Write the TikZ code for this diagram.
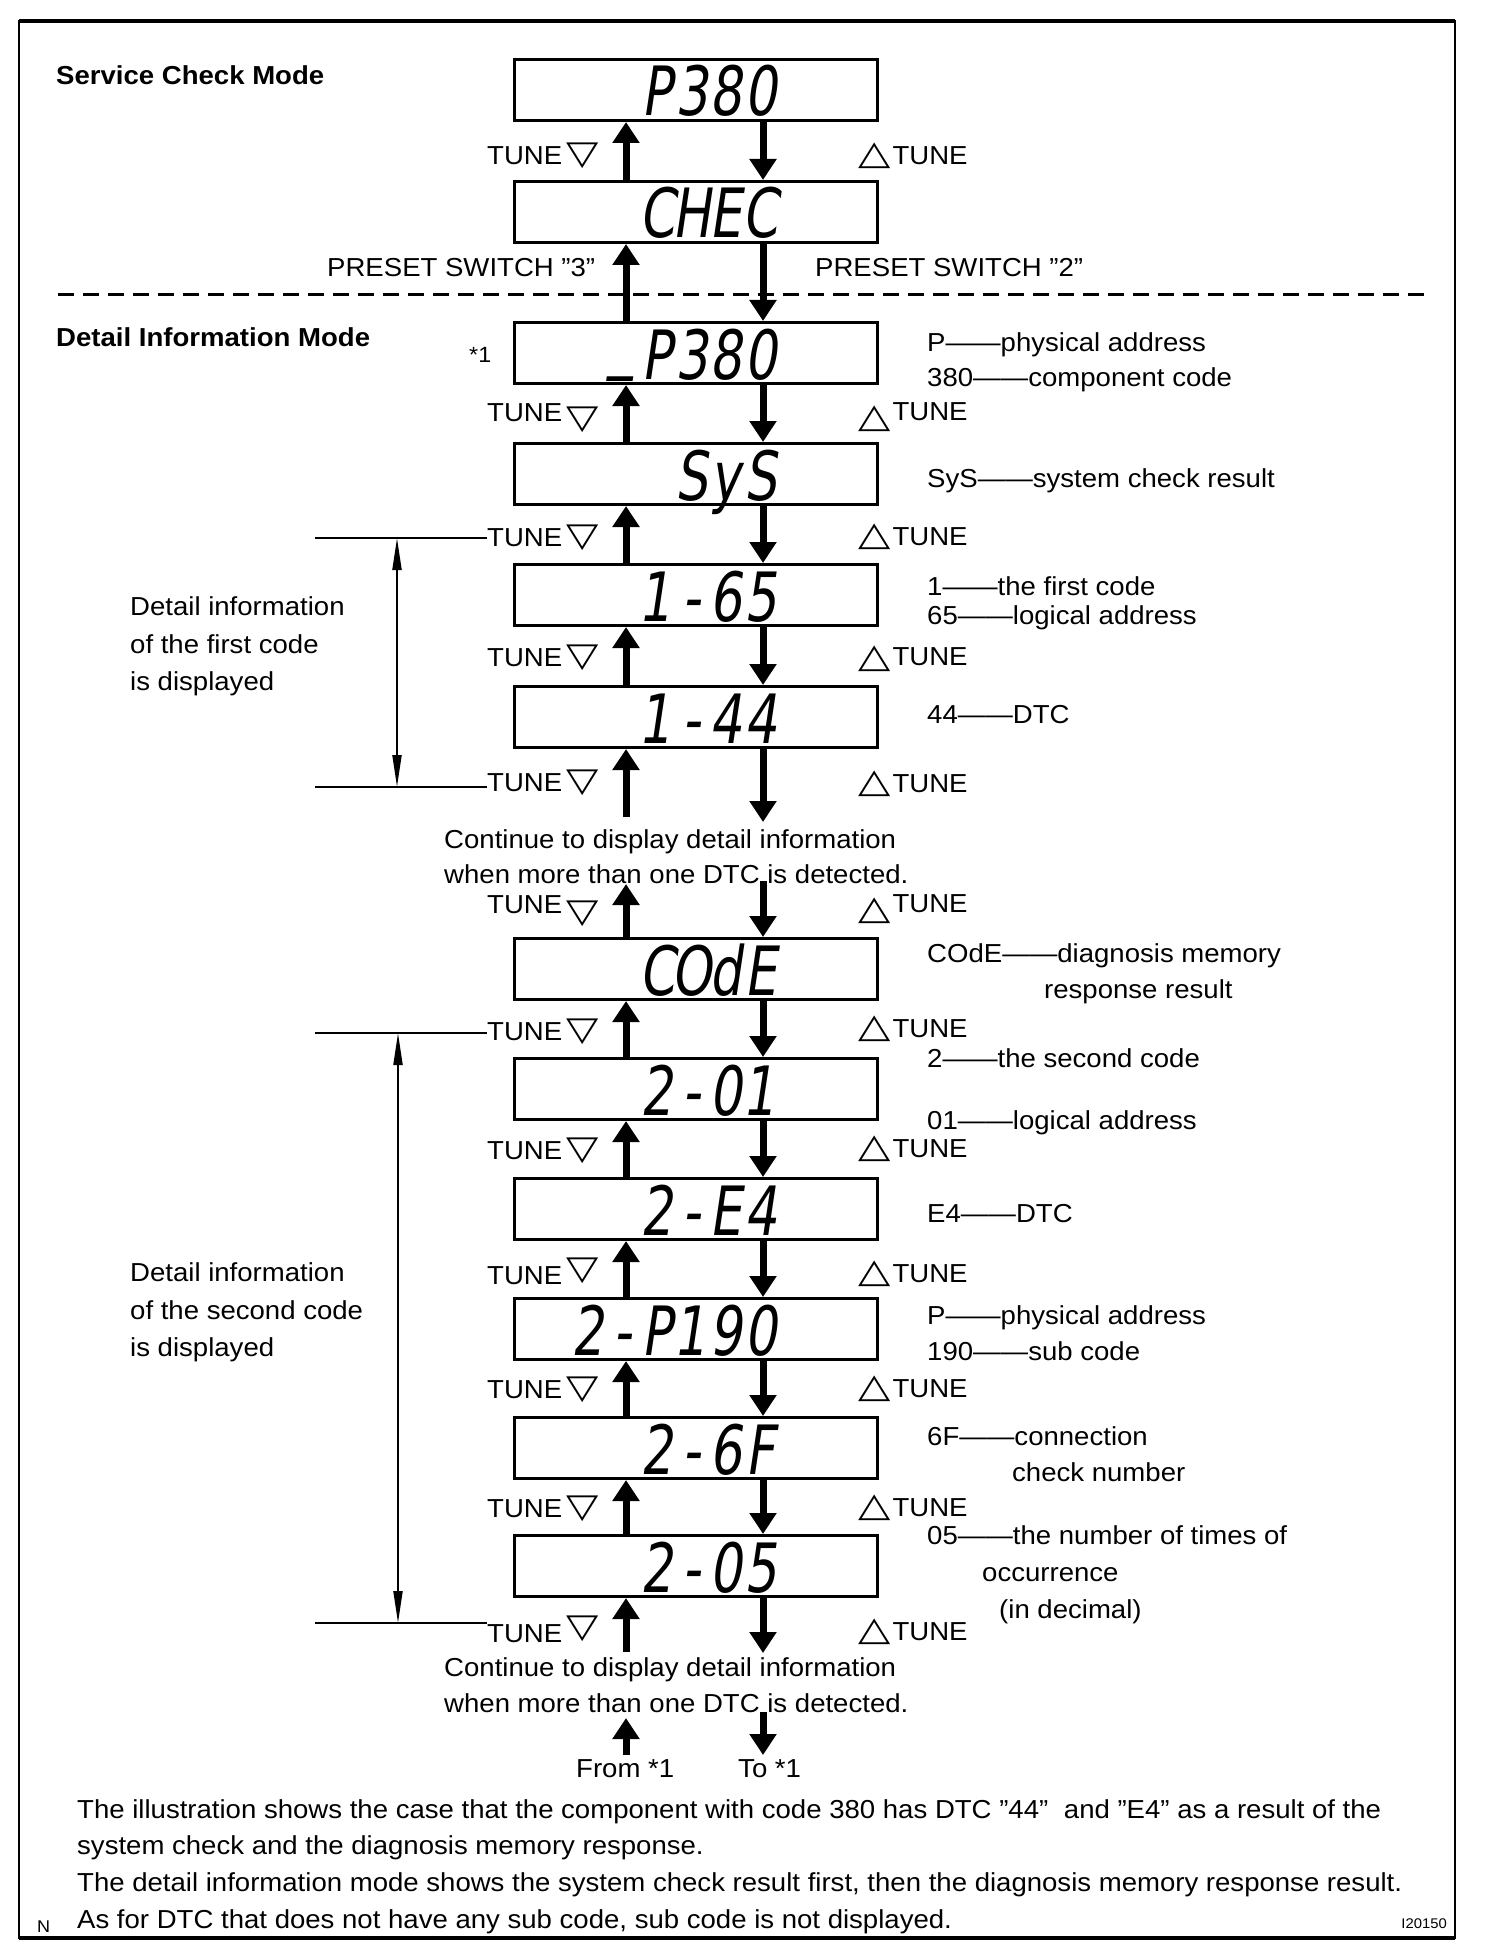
\documentclass[tikz,border=0pt]{standalone}
\usepackage{fontspec}
\usepackage{graphicx}
\setmainfont{Liberation Sans}[FakeStretch=1.06]
\newfontfamily\symf{DejaVu Sans}
\newfontfamily\lcdf{DejaVu Sans}[FakeStretch=0.75,FakeSlant=0.15]
\usetikzlibrary{arrows.meta,calc}
\newcommand\lc[1]{\makebox[34.5pt][c]{#1}}
\newcommand\lcr[1]{\makebox[34.5pt][r]{#1\hspace{3pt}}}
\newcommand\tdn{{\symf\bfseries\fontsize{42}{42}\selectfont\scalebox{1}[0.8]{▽}}}
\newcommand\tup{{\symf\bfseries\fontsize{42}{42}\selectfont\scalebox{1}[0.8]{△}}}
\begin{document}
\begin{tikzpicture}[x=1pt,y=-1pt,
  lcd/.style={draw, line width=3pt, minimum width=363pt, minimum height=61pt, inner sep=0pt},
  lcdtxt/.style={anchor=base east, inner sep=0pt, font=\lcdf\fontsize{68}{68}\selectfont},
  big/.style={line width=7pt, -{Triangle[width=26pt,length=21pt]}},
  brk/.style={line width=2pt, {Triangle[width=9pt,length=32pt]}-{Triangle[width=9pt,length=32pt]}},
  lbl/.style={anchor=base west, inner sep=0pt, font=\fontsize{26}{30}\selectfont},
  hdr/.style={anchor=base west, inner sep=0pt, font=\bfseries\fontsize{26}{30}\selectfont}]
\useasboundingbox (0,0) rectangle (1504,1958);
% frame
\draw[line width=2.5pt] (19,21) rectangle (1455,1938);
\draw[line width=4.5pt] (19,21) -- (1455,21);
\draw[line width=4.5pt] (19,1938) -- (1455,1938);
% dashed separator
\draw[line width=3pt, dash pattern=on 16pt off 9pt] (58,295) -- (1425,295);
% headers
\node[hdr] (h1) at (56,85) {Service Check Mode};
\node[hdr] (h2) at (56,346) {Detail Information Mode};
% boxes
\node[lcd] (b1) at (696,90) {};
\node[lcd] (b2) at (696,212) {};
\node[lcd] (b3) at (696,353) {};
\node[lcd] (b4) at (696,474) {};
\node[lcd] (b5) at (696,595) {};
\node[lcd] (b6) at (696,717) {};
\node[lcd] (b7) at (696,969) {};
\node[lcd] (b8) at (696,1089) {};
\node[lcd] (b9) at (696,1209) {};
\node[lcd] (b10) at (696,1329) {};
\node[lcd] (b11) at (696,1448) {};
\node[lcd] (b12) at (696,1566) {};
% display texts
\node[lcdtxt] (d1) at ($(b1.center)+(82,26)$) {\lc{P}\lc{3}\lc{8}\lc{0}};
\node[lcdtxt] (d2) at ($(b2.center)+(82,26)$) {\lc{C}\lc{H}\lc{E}\lc{C}};
\node[lcdtxt] (d3) at ($(b3.center)+(82,26)$) {\lc{\raisebox{14pt}{\_}}\lc{P}\lc{3}\lc{8}\lc{0}};
\node[lcdtxt] (d4) at ($(b4.center)+(82,26)$) {\lc{S}\lc{y}\lc{S}};
\node[lcdtxt] (d5) at ($(b5.center)+(82,26)$) {\lcr{1}\lc{-}\lc{6}\lc{5}};
\node[lcdtxt] (d6) at ($(b6.center)+(82,26)$) {\lcr{1}\lc{-}\lc{4}\lc{4}};
\node[lcdtxt] (d7) at ($(b7.center)+(82,26)$) {\lc{C}\lc{O}\lc{d}\lc{E}};
\node[lcdtxt] (d8) at ($(b8.center)+(82,26)$) {\lc{2}\lc{-}\lc{0}\lcr{1}};
\node[lcdtxt] (d9) at ($(b9.center)+(82,26)$) {\lc{2}\lc{-}\lc{E}\lc{4}};
\node[lcdtxt] (d10) at ($(b10.center)+(82,26)$) {\lc{2}\lc{-}\lc{P}\lcr{1}\lc{9}\lc{0}};
\node[lcdtxt] (d11) at ($(b11.center)+(82,26)$) {\lc{2}\lc{-}\lc{6}\lc{F}};
\node[lcdtxt] (d12) at ($(b12.center)+(82,26)$) {\lc{2}\lc{-}\lc{0}\lc{5}};
% arrow columns
\coordinate (U) at (626,0);
\coordinate (D) at (763,0);
\foreach \a/\b in {b1/b2,b2/b3,b3/b4,b4/b5,b5/b6,b7/b8,b8/b9,b9/b10,b10/b11,b11/b12}{
  \draw[big] (\b.north -| U) -- (\a.south -| U);
  \draw[big] (\a.south -| D) -- (\b.north -| D);
}
\coordinate (c1u) at (626,817);
\coordinate (c1d) at (763,822);
\coordinate (c2u) at (626,884);
\coordinate (c2d) at (763,881);
\coordinate (c3u) at (626,1652);
\coordinate (c3d) at (763,1653);
\coordinate (c4u) at (626,1755);
\coordinate (c4t) at (626,1718);
\coordinate (c5s) at (763,1712);
\coordinate (c5d) at (763,1755);
\draw[big] (c1u) -- (b6.south -| U);
\draw[big] (b6.south -| D) -- (c1d);
\draw[big] (b7.north -| U) -- (c2u);
\draw[big] (c2d) -- (b7.north -| D);
\draw[big] (c3u) -- (b12.south -| U);
\draw[big] (b12.south -| D) -- (c3d);
\draw[big] (c4u) -- (c4t);
\draw[big] (c5s) -- (c5d);
% TUNE labels (left / right)
\node[lbl] (lA) at (487,165) {TUNE\hspace{4pt}\tdn};
\node[lbl] (rA) at (858,165) {\tup\hspace{2pt}TUNE};
\node[lbl] (pL) at (327,277) {PRESET SWITCH "3"};
\node[lbl] (pR) at (815,277) {PRESET SWITCH "2"};
\node[lbl] (lC) at (487,421) {TUNE\hspace{4pt}\raisebox{-7pt}{\tdn}};
\node[lbl] (rC) at (858,420) {\raisebox{-7pt}{\tup}\hspace{2pt}TUNE};
\node[lbl] (lD) at (487,546) {TUNE\hspace{4pt}\tdn};
\node[lbl] (rD) at (858,545) {\tup\hspace{2pt}TUNE};
\node[lbl] (lE) at (487,666) {TUNE\hspace{4pt}\tdn};
\node[lbl] (rE) at (858,665) {\raisebox{-2pt}{\tup}\hspace{2pt}TUNE};
\node[lbl] (lF) at (487,791) {TUNE\hspace{4pt}\tdn};
\node[lbl] (rF) at (858,792) {\tup\hspace{2pt}TUNE};
\node[lbl] (lG) at (487,913) {TUNE\hspace{4pt}\raisebox{-9pt}{\tdn}};
\node[lbl] (rG) at (858,912) {\raisebox{-7pt}{\tup}\hspace{2pt}TUNE};
\node[lbl] (lH) at (487,1040) {TUNE\hspace{4pt}\tdn};
\node[lbl] (rH) at (858,1037) {\tup\hspace{2pt}TUNE};
\node[lbl] (lI) at (487,1159) {TUNE\hspace{4pt}\tdn};
\node[lbl] (rI) at (858,1157) {\tup\hspace{2pt}TUNE};
\node[lbl] (lJ) at (487,1284) {TUNE\hspace{4pt}\raisebox{5pt}{\tdn}};
\node[lbl] (rJ) at (858,1282) {\tup\hspace{2pt}TUNE};
\node[lbl] (lK) at (487,1398) {TUNE\hspace{4pt}\tdn};
\node[lbl] (rK) at (858,1397) {\tup\hspace{2pt}TUNE};
\node[lbl] (lL) at (487,1517) {TUNE\hspace{4pt}\tdn};
\node[lbl] (rL) at (858,1516) {\tup\hspace{2pt}TUNE};
\node[lbl] (lM) at (487,1642) {TUNE\hspace{4pt}\raisebox{5pt}{\tdn}};
\node[lbl] (rM) at (858,1640) {\tup\hspace{2pt}TUNE};
% brackets
\coordinate (k1a) at (315,538);
\coordinate (k1b) at (315,787);
\coordinate (k1t) at (397,538);
\coordinate (k1u) at (397,787);
\draw[line width=2.5pt] (k1a) -- (k1a -| lD.west);
\draw[line width=2.5pt] (k1b) -- (k1b -| lF.west);
\draw[brk] (k1t) -- (k1u);
\coordinate (k2a) at (315,1033);
\coordinate (k2b) at (315,1623);
\coordinate (k2t) at (398,1033);
\coordinate (k2u) at (398,1623);
\draw[line width=2.5pt] (k2a) -- (k2a -| lH.west);
\draw[line width=2.5pt] (k2b) -- (k2b -| lM.west);
\draw[brk] (k2t) -- (k2u);
% left notes
\node[lbl] (n1) at (130,615) {Detail information};
\node[lbl] (n2) at (130,653) {of the first code};
\node[lbl] (n3) at (130,690) {is displayed};
\node[lbl] (n4) at (130,1281) {Detail information};
\node[lbl] (n5) at (130,1319) {of the second code};
\node[lbl] (n6) at (130,1356) {is displayed};
% star 1
\node[anchor=base west, inner sep=0pt, font=\fontsize{22}{24}\selectfont] (s1) at (469,362) {*1};
% right notes
\node[lbl] (a1) at (927,351) {P——physical address};
\node[lbl] (a2) at (927,386) {380——component code};
\node[lbl] (a3) at (927,487) {SyS——system check result};
\node[lbl] (a4) at (927,595) {1——the first code};
\node[lbl] (a5) at (927,624) {65——logical address};
\node[lbl] (a6) at (927,723) {44——DTC};
\node[lbl] (a7) at (927,962) {COdE——diagnosis memory};
\node[lbl] (a8) at (1044,998) {response result};
\node[lbl] (a9) at (927,1067) {2——the second code};
\node[lbl] (a10) at (927,1129) {01——logical address};
\node[lbl] (a11) at (927,1222) {E4——DTC};
\node[lbl] (a12) at (927,1324) {P——physical address};
\node[lbl] (a13) at (927,1360) {190——sub code};
\node[lbl] (a14) at (927,1445) {6F——connection};
\node[lbl] (a15) at (1012,1481) {check number};
\node[lbl] (a16) at (927,1544) {05——the number of times of};
\node[lbl] (a17) at (982,1581) {occurrence};
\node[lbl] (a18) at (999,1618) {(in decimal)};
% continue notes
\node[lbl] (m1) at (444,848) {Continue to display detail information};
\node[lbl] (m2) at (444,883) {when more than one DTC is detected.};
\node[lbl] (m3) at (444,1676) {Continue to display detail information};
\node[lbl] (m4) at (444,1712) {when more than one DTC is detected.};
\node[lbl] (f1) at (576,1777) {From *1};
\node[lbl] (f2) at (738,1777) {To *1};
% bottom paragraph
\node[lbl] (p1) at (77,1818) {The illustration shows the case that the component with code 380 has DTC "44"\hspace{8pt} and "E4" as a result of the};
\node[lbl] (p2) at (77,1854) {system check and the diagnosis memory response.};
\node[lbl] (p3) at (77,1891) {The detail information mode shows the system check result first, then the diagnosis memory response result.};
\node[lbl] (p4) at (77,1928) {As for DTC that does not have any sub code, sub code is not displayed.};
\node[anchor=base west, inner sep=0pt, font=\fontsize{17}{18}\selectfont] (nN) at (37,1932) {N};
\node[anchor=base east, inner sep=0pt, font=\fontsize{14}{15}\selectfont] (id) at (1447,1928) {I20150};
\end{tikzpicture}
\end{document}
